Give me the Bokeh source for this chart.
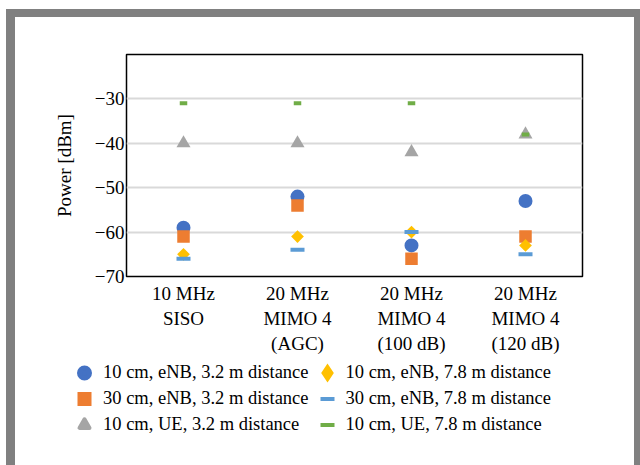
import numpy as np
from bokeh.plotting import figure
from bokeh.layouts import column
from bokeh.models import (FactorRange, Range1d, FixedTicker, Legend, LegendItem,
                          ColumnDataSource)
from bokeh.embed import file_html
from bokeh.resources import INLINE

# ---- data ----
categories = ["10 MHz\nSISO", "20 MHz\nMIMO 4\n(AGC)",
              "20 MHz\nMIMO 4\n(100 dB)", "20 MHz\nMIMO 4\n(120 dB)"]
s_10cm_enb_32 = [-59, -52, -63, -53]
s_30cm_enb_32 = [-61, -54, -66, -61]
s_10cm_ue_32 = [-40, -40, -42, -38]
s_10cm_enb_78 = [-65, -61, -60, -63]
s_30cm_enb_78 = [-66, -64, -60, -65]
s_10cm_ue_78 = [-31, -31, -31, -38]
series_names = ["10 cm, eNB, 3.2 m distance", "30 cm, eNB, 3.2 m distance",
                "10 cm, UE, 3.2 m distance", "10 cm, eNB, 7.8 m distance",
                "30 cm, eNB, 7.8 m distance", "10 cm, UE, 7.8 m distance"]
y_ticks = [-70, -60, -50, -40, -30]
y_tick_labels = ["\u221270", "\u221260", "\u221250", "\u221240", "\u221230"]
y_label = "Power [dBm]"

colors = ["#4472C4", "#ED7D31", "#A5A5A5", "#FFC000", "#5B9BD5", "#70AD47"]
FONT = "Liberation Serif"
FS = "18.5px"
FS_AX = "19px"
GRAY = "#808080"

src = ColumnDataSource(dict(x=categories, a=s_10cm_enb_32, b=s_30cm_enb_32,
                            c=s_10cm_ue_32, d=s_10cm_enb_78, e=s_30cm_enb_78,
                            f=s_10cm_ue_78))

# ---- main chart (canvas starts at page (15, 17)) ----
p = figure(width=619, height=339, output_backend="svg", toolbar_location=None,
           x_range=FactorRange(factors=categories, range_padding=0),
           y_range=Range1d(-70, -20),
           min_border_left=111, min_border_right=52, min_border_top=37,
           min_border_bottom=80)
p.frame_align = False
p.background_fill_color = "white"
p.border_fill_color = "white"
p.outline_line_color = "black"
p.outline_line_width = 1.5

p.xgrid.grid_line_color = None
p.ygrid.grid_line_color = "#D9D9D9"
p.ygrid.grid_line_width = 2

p.yaxis.ticker = FixedTicker(ticks=y_ticks)
p.yaxis.major_label_overrides = {t: l for t, l in zip(y_ticks, y_tick_labels)}
for ax in (p.xaxis[0], p.yaxis[0]):
    ax.axis_line_color = None
    ax.major_tick_line_color = None
    ax.minor_tick_line_color = None
    ax.major_tick_in = 0
    ax.major_tick_out = 0
    ax.major_label_text_font = FONT
    ax.major_label_text_font_size = FS_AX
    ax.major_label_text_color = "black"
p.yaxis.major_label_standoff = 2
p.xaxis.major_label_standoff = 6
p.yaxis.axis_label = y_label
p.yaxis.axis_label_text_font = FONT
p.yaxis.axis_label_text_font_size = FS_AX
p.yaxis.axis_label_text_font_style = "normal"
p.yaxis.axis_label_text_color = "black"
p.yaxis.axis_label_standoff = 17

p.scatter("x", "a", source=src, marker="circle", size=14,
          fill_color=colors[0], line_color=None)
p.scatter("x", "b", source=src, marker="square", size=12.5,
          fill_color=colors[1], line_color=None)
p.scatter("x", "c", source=src, marker="triangle", size=14,
          fill_color=colors[2], line_color=None)
p.scatter("x", "d", source=src, marker="square", size=9, angle=np.pi / 4,
          fill_color=colors[3], line_color=None)
p.scatter("x", "e", source=src, marker="dash", size=14,
          line_color=colors[4], line_width=4)
p.scatter("x", "f", source=src, marker="dash", size=7.5,
          line_color=colors[5], line_width=4)

# ---- legend panel (separate canvas so nothing is clipped) ----
lp = figure(width=619, height=109, output_backend="svg", toolbar_location=None,
            x_range=FactorRange(factors=categories), y_range=Range1d(-70, -20),
            x_axis_type=None, y_axis_type=None,
            min_border_left=0, min_border_right=0, min_border_top=0,
            min_border_bottom=0)
lp.frame_align = False
lp.outline_line_color = None
lp.xgrid.grid_line_color = None
lp.ygrid.grid_line_color = None
lp.background_fill_color = "white"
lp.border_fill_color = "white"

# hidden swatch renderers (legend marker size = 0.4 * glyph box)
l1 = lp.scatter("x", "a", source=src, marker="circle", fill_color=colors[0],
                line_color=colors[0], line_width=5, visible=False)
l2 = lp.scatter("x", "b", source=src, marker="square", fill_color=colors[1],
                line_color=colors[1], line_width=4, line_join="miter", visible=False)
l3 = lp.scatter("x", "c", source=src, marker="triangle", fill_color=colors[2],
                line_color=colors[2], line_width=4, line_join="round", visible=False)
l4 = lp.scatter("x", "d", source=src, marker="diamond", fill_color=colors[3],
                line_color=colors[3], line_width=5, line_join="miter", visible=False)
l5 = lp.scatter("x", "e", source=src, marker="dash", line_color=colors[4],
                line_width=4, line_cap="square", visible=False)
l6 = lp.scatter("x", "f", source=src, marker="dash", line_color=colors[5],
                line_width=4, line_cap="square", visible=False)

legend = Legend(items=[LegendItem(label=n, renderers=[r])
                       for n, r in zip(series_names, [l1, l2, l3, l4, l5, l6])],
                location=(52, 28), orientation="vertical", nrows=3,
                glyph_width=34, glyph_height=25, spacing=1, label_standoff=2,
                padding=0, margin=0, border_line_color=None,
                background_fill_alpha=0, label_text_font=FONT,
                label_text_font_size=FS, label_text_color="black",
                click_policy="none")
lp.add_layout(legend, "center")

layout = column(p, lp, spacing=0)
layout.margin = (9, 0, 0, 6)
layout.styles = {"border-top": f"8px solid {GRAY}", "border-left": f"9px solid {GRAY}",
                 "border-right": f"6px solid {GRAY}"}

open("out.html", "w").write(file_html(layout, INLINE))
